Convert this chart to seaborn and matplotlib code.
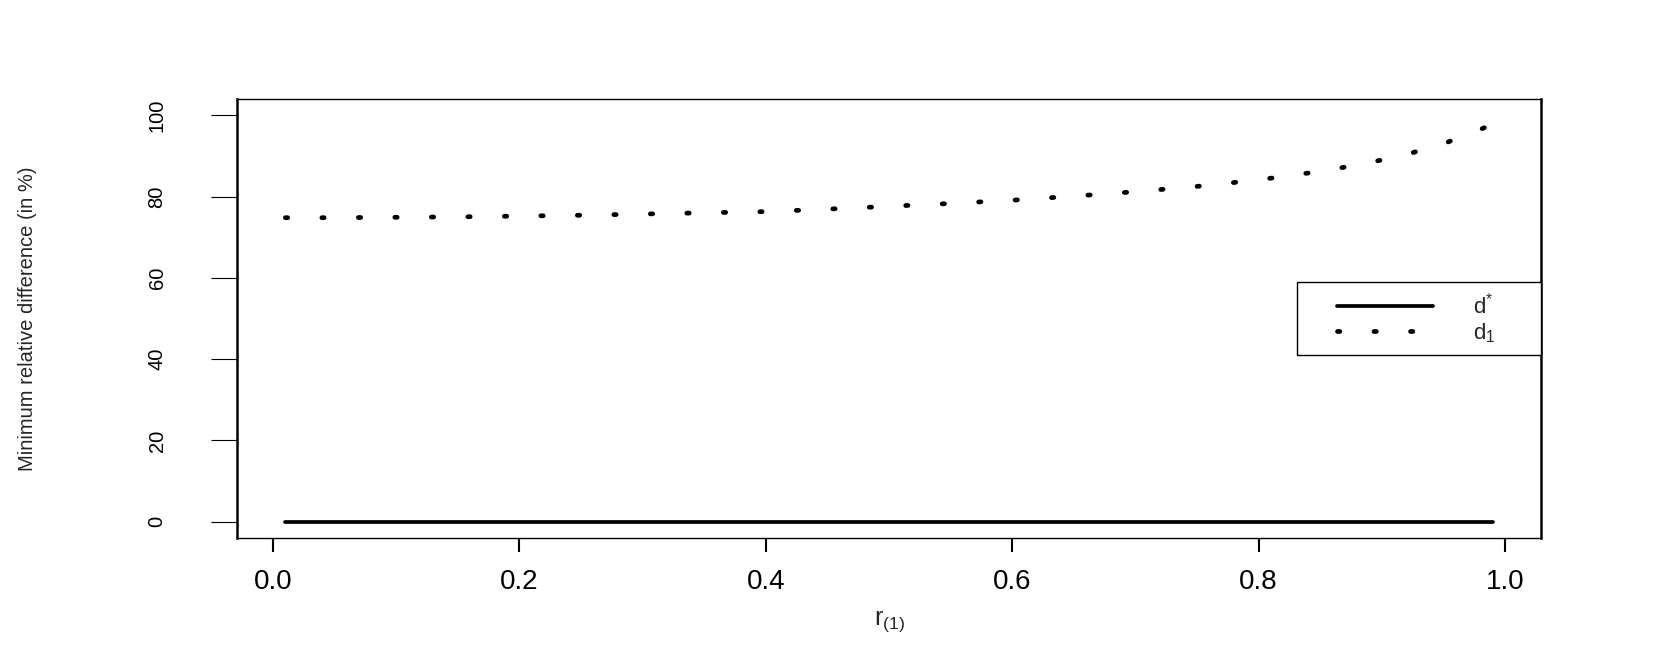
import matplotlib.pyplot as plt
from matplotlib.lines import Line2D
from matplotlib.legend_handler import HandlerLine2D
import seaborn as sns
import numpy as np
import pandas as pd

# --- Data ---
r_vals = [0.01, 0.05, 0.10, 0.15, 0.20, 0.25, 0.30, 0.35, 0.40, 0.45, 0.50, 0.55,
          0.60, 0.65, 0.70, 0.75, 0.80, 0.85, 0.875, 0.90, 0.925, 0.95, 0.975, 0.99]
d1_vals = [74.8, 74.8, 74.9, 75.0, 75.2, 75.4, 75.7, 76.0, 76.3, 76.9, 77.6, 78.3,
           79.1, 80.1, 81.2, 82.5, 84.1, 86.2, 87.5, 89.0, 90.8, 93.0, 95.9, 97.8]
dstar_vals = [0.0] * len(r_vals)

x_ticks = [0.0, 0.2, 0.4, 0.6, 0.8, 1.0]
x_tick_labels = ["0.0", "0.2", "0.4", "0.6", "0.8", "1.0"]
y_ticks = [0, 20, 40, 60, 80, 100]
legend_labels = [r"$\mathregular{d^{*}}$", r"$\mathregular{d_{1}}$"]

df = pd.DataFrame({"r": r_vals, "d_star": dstar_vals, "d1": d1_vals})

# Style: plain R-like look
sns.set_theme(style="ticks")
plt.rcParams['font.family'] = ['Liberation Sans', 'DejaVu Sans']
plt.rcParams['axes.edgecolor'] = 'black'
plt.rcParams['xtick.color'] = 'black'
plt.rcParams['ytick.color'] = 'black'

fig = plt.figure(figsize=(16.61, 6.64), dpi=100)
ax = fig.add_axes([0.1427, 0.1898, 0.7851, 0.6611])

# --- Lines ---
solid_style = dict(color='black', lw=2.7, solid_capstyle='round')
dot_style = dict(color='black', lw=3.4, linestyle=(0, (0.5, 7.23)), dash_capstyle='round')
sns.lineplot(data=df, x="r", y="d_star", ax=ax, **solid_style)
sns.lineplot(data=df, x="r", y="d1", ax=ax, **dot_style)

# --- Axes ---
ax.set_xlim(-0.0292, 1.0292)
ax.set_ylim(-4, 104)
ax.set_xticks(x_ticks)
ax.set_xticklabels(x_tick_labels)
ax.set_yticks(y_ticks)
ax.tick_params(axis='x', length=10, width=1.5, pad=12, labelsize=20, direction='out')
ax.tick_params(axis='y', length=18.7, width=0.8, pad=32, labelsize=14.5, labelrotation=90, direction='out')
for lab in ax.get_yticklabels():
    lab.set_va('center')
for side in ['left', 'right']:
    ax.spines[side].set_linewidth(1.8)
for side in ['top', 'bottom']:
    ax.spines[side].set_linewidth(1.0)

ax.set_xlabel(r"$\mathregular{r_{(1)}}$", fontsize=18)
ax.xaxis.set_label_coords(0.5, -0.163)
ax.set_ylabel("Minimum relative difference (in %)", fontsize=14.5)
ax.yaxis.set_label_coords(-0.1534, 0.5)

# --- Legend ---
handles = [Line2D([], [], **solid_style), Line2D([], [], **dot_style)]
leg = ax.legend(handles, legend_labels, loc='center', mode='expand',
                bbox_to_anchor=(0.8129, 0.4, 0.1871, 0.2), borderaxespad=0,
                fontsize=16, borderpad=0.45, handlelength=5.68, handletextpad=1.8,
                labelspacing=0.12, fancybox=False, framealpha=1, edgecolor='black',
                handler_map={Line2D: HandlerLine2D(xpad=1.35)})
leg.get_frame().set_linewidth(1.0)

fig.savefig('out.png', dpi=100)
